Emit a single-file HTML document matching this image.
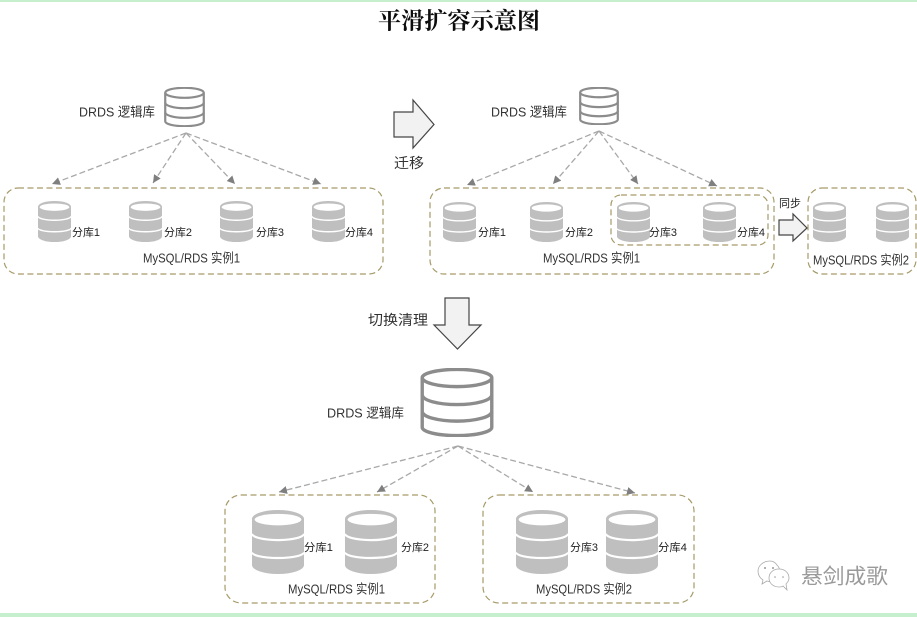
<!DOCTYPE html>
<html><head><meta charset="utf-8"><style>
html,body{margin:0;padding:0;background:#fff;width:917px;height:617px;overflow:hidden}
svg{display:block}
text{font-family:"Liberation Sans","Noto Sans CJK SC",sans-serif;fill:#333;dominant-baseline:central}
.s{font-size:11px;fill:#222}
.m{font-size:13px}
.d{font-size:13px}
.a{font-size:14px}
.t{font-family:"Liberation Serif","Noto Serif CJK SC",serif;font-size:23px;font-weight:bold;fill:#111}
.box{fill:none;stroke:#a69a68;stroke-width:1.2;stroke-dasharray:6 3.5}
.ln{fill:none;stroke:#a8a8a8;stroke-width:1.3;stroke-dasharray:6 3;marker-end:url(#ah)}
.ar{fill:#f2f2f2;stroke:#444;stroke-width:1.2}
</style></head><body>
<svg width="917" height="617" viewBox="0 0 917 617" xmlns="http://www.w3.org/2000/svg">
<defs>
<filter id="soft" x="0" y="0" width="100%" height="100%"><feGaussianBlur stdDeviation="0.35"/></filter>
<marker id="ah" viewBox="0 0 8 8" refX="8" refY="4" markerWidth="8" markerHeight="8" markerUnits="userSpaceOnUse" orient="auto"><path d="M0 0L8 4L0 8Z" fill="#7f7f7f"/></marker>
<symbol id="f" viewBox="0 0 100 100" preserveAspectRatio="none">
<path d="M0 14A50 14 0 0 1 100 14V86A50 14 0 0 1 0 86Z" fill="#bfbfbf"/>
<ellipse cx="50" cy="15" rx="45" ry="9" fill="#fff"/>
<path d="M0 37A50 10 0 0 0 100 37M0 66A50 9 0 0 0 100 66" fill="none" stroke="#fff" stroke-width="3.5"/>
</symbol>
<symbol id="o" viewBox="0 0 100 100" preserveAspectRatio="none">
<g fill="none" stroke-linejoin="round">
<path d="M3 14A47 12 0 0 1 97 14V86A47 12 0 0 1 3 86Z" vector-effect="non-scaling-stroke"/>
<path d="M3 14A47 13 0 0 0 97 14" vector-effect="non-scaling-stroke"/>
<path d="M3 39A47 14 0 0 0 97 39" vector-effect="non-scaling-stroke"/>
<path d="M3 63A47 14 0 0 0 97 63" vector-effect="non-scaling-stroke"/>
</g>
</symbol>
</defs>
<g filter="url(#soft)">
<rect x="0" y="0" width="917" height="2" fill="#c6efce"/>
<rect x="0" y="613" width="917" height="4" fill="#c6efce"/>
<text class="t" x="378" y="21" textLength="162" lengthAdjust="spacingAndGlyphs">平滑扩容示意图</text>

<use href="#o" x="164" y="87" width="41" height="40" stroke="#8c8c8c" stroke-width="2.2"/>
<text class="d" x="79" y="112" textLength="76" lengthAdjust="spacingAndGlyphs">DRDS 逻辑库</text>
<path class="ln" d="M186 133L52 184"/><path class="ln" d="M186 133L153 183"/><path class="ln" d="M186 133L235 184"/><path class="ln" d="M186 133L321 184"/>
<rect class="box" x="4" y="188" width="379" height="86" rx="14"/>
<use href="#f" x="38" y="201" width="33" height="41"/><use href="#f" x="129" y="201" width="33" height="41"/><use href="#f" x="220" y="201" width="33" height="41"/><use href="#f" x="312" y="201" width="33" height="41"/>
<text class="s" x="72" y="233" textLength="28" lengthAdjust="spacingAndGlyphs">分库1</text>
<text class="s" x="164" y="233" textLength="28" lengthAdjust="spacingAndGlyphs">分库2</text>
<text class="s" x="256" y="233" textLength="28" lengthAdjust="spacingAndGlyphs">分库3</text>
<text class="s" x="345" y="233" textLength="28" lengthAdjust="spacingAndGlyphs">分库4</text>
<text class="m" x="143" y="258" textLength="97" lengthAdjust="spacingAndGlyphs">MySQL/RDS 实例1</text>

<path class="ar" d="M394 112H413V100L434 124.500L413 148V137H394Z"/>
<text class="a" x="394" y="163" textLength="30" lengthAdjust="spacingAndGlyphs">迁移</text>

<use href="#o" x="579" y="87" width="40" height="38" stroke="#8c8c8c" stroke-width="2.2"/>
<text class="d" x="491" y="112" textLength="76" lengthAdjust="spacingAndGlyphs">DRDS 逻辑库</text>
<path class="ln" d="M599 131L467 185"/><path class="ln" d="M599 131L553 184"/><path class="ln" d="M599 131L638 184"/><path class="ln" d="M599 131L717 186"/>
<rect class="box" x="430" y="188" width="344" height="86" rx="14"/>
<rect class="box" x="611" y="195" width="157" height="50" rx="10"/>
<rect class="box" x="808" y="188" width="108" height="86" rx="14"/>
<use href="#f" x="443" y="202" width="33" height="40"/><use href="#f" x="530" y="202" width="33" height="40"/><use href="#f" x="617" y="202" width="33" height="40"/><use href="#f" x="703" y="202" width="33" height="40"/><use href="#f" x="813" y="202" width="33" height="40"/><use href="#f" x="876" y="202" width="33" height="40"/>
<text class="s" x="478" y="233" textLength="28" lengthAdjust="spacingAndGlyphs">分库1</text>
<text class="s" x="565" y="233" textLength="28" lengthAdjust="spacingAndGlyphs">分库2</text>
<text class="s" x="649" y="233" textLength="28" lengthAdjust="spacingAndGlyphs">分库3</text>
<text class="s" x="737" y="233" textLength="28" lengthAdjust="spacingAndGlyphs">分库4</text>
<text class="m" x="543" y="258" textLength="97" lengthAdjust="spacingAndGlyphs">MySQL/RDS 实例1</text>
<text class="m" x="813" y="260" textLength="96" lengthAdjust="spacingAndGlyphs">MySQL/RDS 实例2</text>
<text class="s" x="779" y="204" textLength="22" lengthAdjust="spacingAndGlyphs">同步</text>
<path class="ar" d="M779 220H793V214L807 228L793 241V235H779Z"/>

<path class="ar" d="M445 298H469V325H481L457.500 349L434 325H445Z"/>
<text class="a" x="368" y="320" textLength="60" lengthAdjust="spacingAndGlyphs">切换清理</text>

<use href="#o" x="420" y="368" width="74" height="69" stroke="#8c8c8c" stroke-width="3.4"/>
<text class="d" x="327" y="413" textLength="77" lengthAdjust="spacingAndGlyphs">DRDS 逻辑库</text>
<path class="ln" d="M458 446L279 492"/><path class="ln" d="M458 446L377 492"/><path class="ln" d="M458 446L533 492"/><path class="ln" d="M458 446L635 493"/>
<rect class="box" x="225" y="495" width="210" height="108" rx="16"/>
<rect class="box" x="483" y="495" width="211" height="108" rx="16"/>
<use href="#f" x="252" y="510" width="52" height="64"/><use href="#f" x="345" y="510" width="52" height="64"/><use href="#f" x="516" y="510" width="52" height="64"/><use href="#f" x="606" y="510" width="52" height="64"/>
<text class="s" x="304" y="548" textLength="29" lengthAdjust="spacingAndGlyphs">分库1</text>
<text class="s" x="401" y="548" textLength="28" lengthAdjust="spacingAndGlyphs">分库2</text>
<text class="s" x="570" y="548" textLength="28" lengthAdjust="spacingAndGlyphs">分库3</text>
<text class="s" x="658" y="548" textLength="29" lengthAdjust="spacingAndGlyphs">分库4</text>
<text class="m" x="288" y="589" textLength="97" lengthAdjust="spacingAndGlyphs">MySQL/RDS 实例1</text>
<text class="m" x="536" y="589" textLength="96" lengthAdjust="spacingAndGlyphs">MySQL/RDS 实例2</text>

<g fill="#fff" stroke="#aaa" stroke-width="0.8">
<path d="M770 561C763 561 758 566 758 571C758 575 760 578 763 580L762 584L767 581C770 582 773 582 775 581C780 578 782 570 777 565C775 562 773 561 770 561Z"/>
<path d="M779 569C773 569 769 573 769 578C769 583 773 587 779 587C781 587 782 587 783 586L787 590L786 584C788 582 789 580 789 578C789 573 785 569 779 569Z"/>
</g>
<g fill="#999"><circle cx="765" cy="568" r="1"/><circle cx="773" cy="568" r="1"/><circle cx="775" cy="577" r="0.8"/><circle cx="783" cy="577" r="0.8"/></g>
<text x="801" y="577" textLength="87" lengthAdjust="spacingAndGlyphs" style="font-size:21px;fill:#9a9a9a">悬剑成歌</text>
</g>
</svg>
</body></html>
